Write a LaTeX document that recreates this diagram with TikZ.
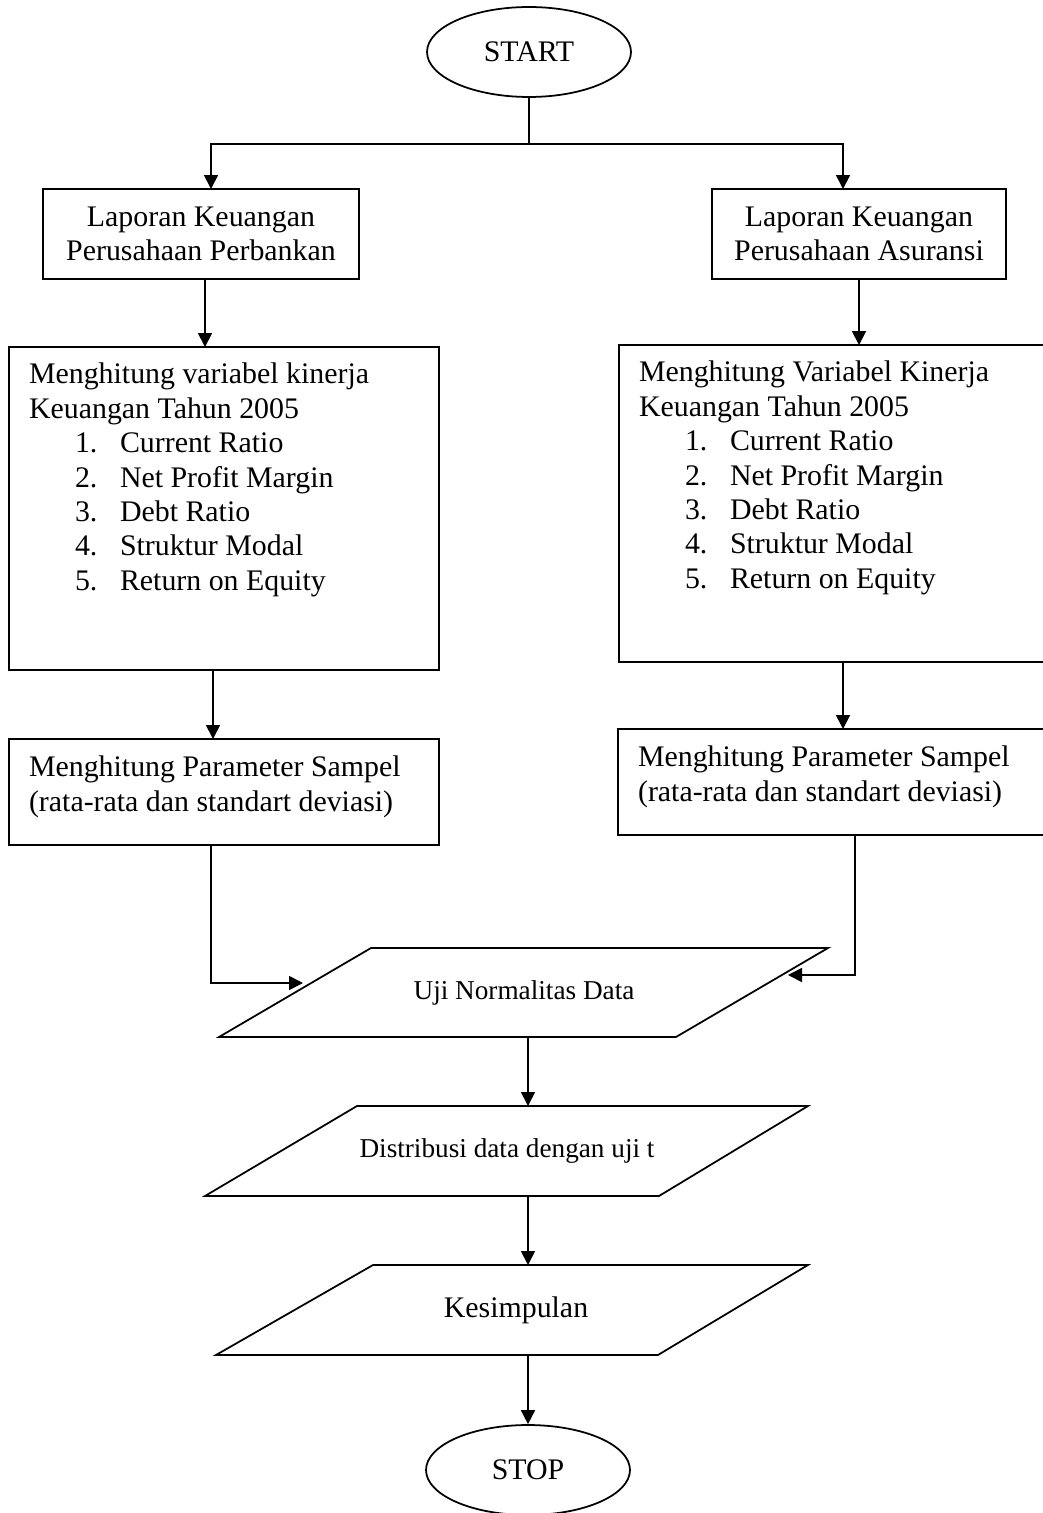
\documentclass[tikz,border=0pt]{standalone}
\usepackage{fontspec}
\setmainfont{Liberation Serif}
\usepackage{tikz}
\usetikzlibrary{arrows.meta, calc}
\usetikzlibrary{shapes.geometric}
\newcommand{\bigtxt}{\fontsize{17}{19.6}\selectfont}
\newcommand{\smalltxt}{\fontsize{15.5}{18}\selectfont}
\newcommand{\itm}[2]{\hspace*{0.92cm}\makebox[0.9cm][l]{#1}#2}
\tikzstyle{terminal} = [draw=black, ellipse, line width=1pt,
    minimum width=4.08cm, minimum height=1.8cm, inner sep=0, font=\bigtxt]
\tikzstyle{box} = [draw=black, line width=1pt, inner sep=0, outer sep=0,
    align=center, font=\bigtxt]
\tikzstyle{boxtext} = [anchor=north west, inner sep=0, outer sep=0,
    align=left, font=\bigtxt]
\tikzstyle{io} = [draw=black, line width=1pt, line join=miter]
\tikzstyle{flow} = [line width=1pt, -{Triangle[length=0.28cm, width=0.28cm]}]

\begin{document}
\begin{tikzpicture}[x=0.02cm, y=-0.02cm]

\useasboundingbox (0,0) rectangle (1042,1513);

\node[terminal] (start) at (529,52) {START};
\coordinate (split) at (529,144);
\draw[line width=1pt] (start.south) -- (split);


%%% laporan keuangan
\node[box, minimum width=6.32cm, minimum height=1.8cm] (lapbank) at (201,234) {Laporan Keuangan\\Perusahaan Perbankan};
\node[box, minimum width=5.88cm, minimum height=1.8cm] (lapasur) at (859,234) {Laporan Keuangan\\Perusahaan Asuransi};

\draw[flow] (split) -| (lapbank.north -| 211,0);
\draw[flow] (split) -| (lapasur.north -| 843,0);


%%% variabel kinerja
\node[box, minimum width=8.6cm, minimum height=6.46cm] (hitbank) at (224,508.5) {};
\node[boxtext] (hitbanktxt) at ($(hitbank.north west)+(20,16)$) {Menghitung variabel kinerja\\Keuangan Tahun 2005\\
    \itm{1.}{Current Ratio}\\\itm{2.}{Net Profit Margin}\\\itm{3.}{Debt Ratio}\\\itm{4.}{Struktur Modal}\\\itm{5.}{Return on Equity}};

\node[box, minimum width=8.82cm, minimum height=6.34cm] (hitasur) at (839.5,503.5) {};
\node[boxtext] (hitasurtxt) at ($(hitasur.north west)+(20,16)$) {Menghitung Variabel Kinerja\\Keuangan Tahun 2005\\
    \itm{1.}{Current Ratio}\\\itm{2.}{Net Profit Margin}\\\itm{3.}{Debt Ratio}\\\itm{4.}{Struktur Modal}\\\itm{5.}{Return on Equity}};

\draw[flow] (lapbank.south -| 205,0) -- (hitbank.north -| 205,0);
\draw[flow] (lapasur.south -| 859,0) -- (hitasur.north -| 859,0);


%%% parameter sampel
\node[box, minimum width=8.6cm, minimum height=2.12cm] (parbank) at (224,792) {};
\node[boxtext] (parbanktxt) at ($(parbank.north west)+(20,17)$) {Menghitung Parameter Sampel\\(rata-rata dan standart deviasi)};

\node[box, minimum width=8.84cm, minimum height=2.12cm] (parasur) at (839,782) {};
\node[boxtext] (parasurtxt) at ($(parasur.north west)+(20,17)$) {Menghitung Parameter Sampel\\(rata-rata dan standart deviasi)};

\draw[flow] (hitbank.south -| 213,0) -- (parbank.north -| 213,0);
\draw[flow] (hitasur.south -| 843,0) -- (parasur.north -| 843,0);


%%% uji normalitas
\draw[io] (371,948) -- (828,948) -- (676,1037) -- (219,1037) -- cycle;
\node[font=\smalltxt] (uji) at (524,993) {Uji Normalitas Data};
\coordinate (ujiL) at (303,983);
\coordinate (ujiR) at (788,975);
\coordinate (ujibot) at (528,1037);

\draw[flow] (parbank.south -| 211,0) |- (ujiL);
\draw[flow] (parasur.south -| 855,0) |- (ujiR);


%%% uji t
\draw[io] (357,1106) -- (808,1106) -- (659,1196) -- (205,1196) -- cycle;
\node[font=\smalltxt] (dist) at (507,1151) {Distribusi data dengan uji t};
\coordinate (disttop) at (528,1106);
\coordinate (distbot) at (528,1196);

\draw[flow] (ujibot) -- (disttop);


%%% kesimpulan
\draw[io] (373,1265) -- (808,1265) -- (658,1355) -- (216,1355) -- cycle;
\node[font=\bigtxt] (kes) at (516,1310) {Kesimpulan};
\coordinate (kestop) at (528,1265);
\coordinate (kesbot) at (528,1355);

\draw[flow] (distbot) -- (kestop);


\node[terminal] (stop) at (528,1470) {STOP};

\draw[flow] (kesbot) -- (stop.north);

\end{tikzpicture}
\end{document}
